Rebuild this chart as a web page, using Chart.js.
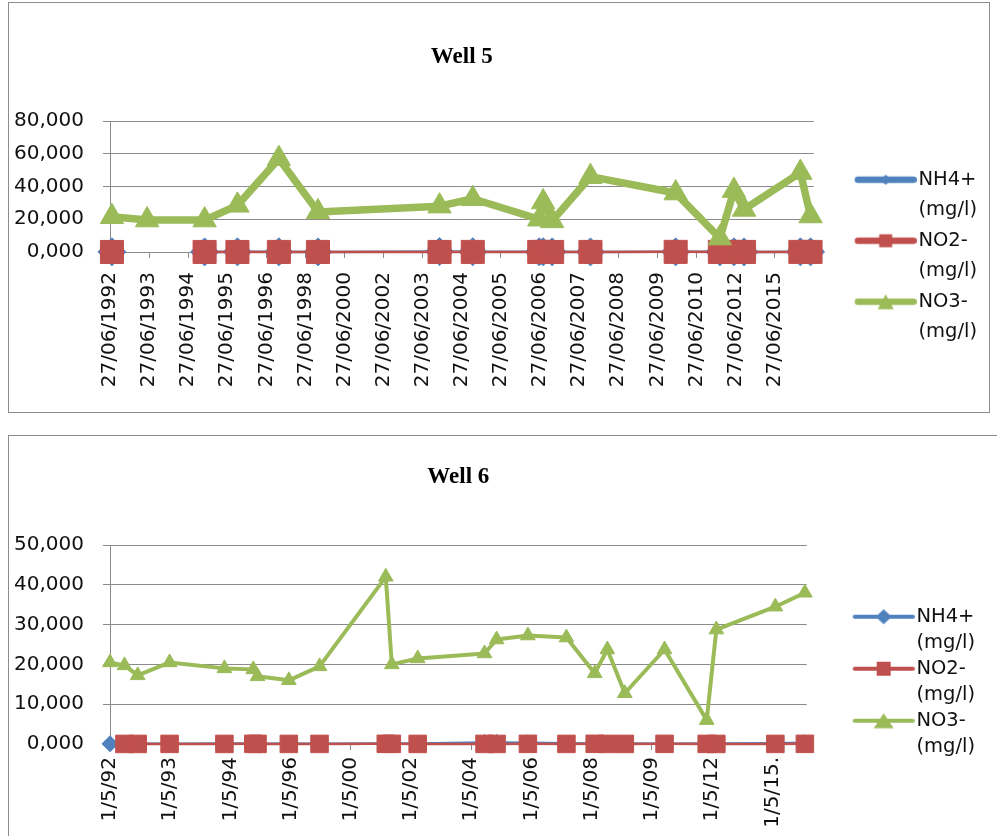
<!DOCTYPE html>
<html>
<head>
<meta charset="utf-8">
<script src="https://cdn.jsdelivr.net/npm/chart.js@4.4.1/dist/chart.umd.min.js"></script>
<style>
  html, body { margin: 0; padding: 0; background: #fff; }
  body { width: 997px; height: 836px; overflow: hidden; position: relative; }
  .box { position: absolute; left: 8px; border: 1px solid #8c8c8c; background: #fff; overflow: hidden; }
  #box5 { top: 2px; width: 980px; height: 409px; }
  #box6 { top: 435px; width: 1000px; height: 430px; }
  canvas { display: block; }
</style>
</head>
<body>
<div class="box" id="box5"><canvas id="well5" width="980" height="409"></canvas></div>
<div class="box" id="box6"><canvas id="well6" width="988" height="420"></canvas></div>
<script>
const seriesNames = [['NH4+', '(mg/l)'], ['NO2-', '(mg/l)'], ['NO3-', '(mg/l)']];
const colors = ['#4F81BD', '#C0504D', '#9BBB59'];
const gridColor = '#8a8a8a';

// Well 5 - sample positions are read along the category axis (1 = one label step)
const well5Labels = ['27/06/1992', '27/06/1993', '27/06/1994', '27/06/1995', '27/06/1996', '27/06/1998',
    '27/06/2000', '27/06/2002', '27/06/2003', '27/06/2004', '27/06/2005', '27/06/2006',
    '27/06/2007', '27/06/2008', '27/06/2009', '27/06/2010', '27/06/2012', '27/06/2015'];
const well5Pos = [0.05, 0.95, 2.42, 3.26, 4.32, 5.32, 8.43, 9.28, 10.98, 11.08, 11.31, 12.29, 14.47, 15.6, 15.96, 16.22, 17.66, 17.92];
const well5NH4 = [0.1, null, 0.05, 0.08, 0.12, 0.06, 0.3, 0.2, 0.1, 0.15, 0.1, 0.05, 0.08, 0.1, 0.12, 0.06, 0.1, 0.08];
const well5NO2 = [0.02, null, 0.03, 0.02, 0.05, 0.04, 0.03, 0.06, 0.04, 0.05, 0.03, 0.04, 0.08, 0.05, 0.06, 0.04, 0.07, 0.05];
const well5NO3 = [21.5, 19.5, 19.5, 28.5, 57, 24.5, 28, 32.5, 20, 30.5, 19, 46, 36, 8.5, 37.5, 26, 48.5, 22];

// Well 6
const well6Labels = ['1/5/92', '1/5/93', '1/5/94', '1/5/96', '1/5/00', '1/5/02', '1/5/04', '1/5/06',
    '1/5/08', '1/5/09', '1/5/12', '1/5/15.'];
const well6Pos = [0, 0.24, 0.46, 0.99, 1.9, 2.38, 2.45, 2.97, 3.48, 4.58, 4.68, 5.11,
    6.22, 6.42, 6.94, 7.58, 8.05, 8.26, 8.55, 9.21, 9.91, 10.07, 11.05, 11.54];
const well6NH4 = [0.05, 0.1, 0.1, 0.05, 0.1, 0.1, 0.05, 0.1, 0.05, 0.1, 0.1, 0.1,
    0.4, 0.4, 0.3, 0.2, 0.1, 0.1, 0.1, 0.05, 0.1, 0.1, 0.2, 0.3];
const well6NO2 = [null, 0.02, 0.02, 0.03, 0.02, 0.04, 0.03, 0.02, 0.03, 0.05, 0.04, 0.02,
    0.03, 0.02, 0.04, 0.03, 0.05, 0.03, 0.02, 0.04, 0.03, 0.02, 0.03, 0.04];
const well6NO3 = [20.5, 19.75, 17.25, 20.5, 19, 18.75, 17, 16, 19.5, 42, 20, 21.5,
    22.75, 26.25, 27.25, 26.75, 17.75, 23.75, 12.75, 23.75, 6, 28.75, 34.5, 38];

function points(pos, values) {
    return pos.map((x, i) => ({ x: x, y: values[i] }));
}

function fmt3(v) {
    return v.toFixed(3).replace('.', ',');
}

// line + marker sample used as legend point style
function makeSymbol(w, color, lineWidth, shape, size) {
    const c = document.createElement('canvas');
    c.width = w;
    c.height = 30;
    const g = c.getContext('2d');
    const y = 15, cx = w - 31;
    g.strokeStyle = color;
    g.fillStyle = color;
    g.lineWidth = lineWidth;
    g.lineCap = 'round';
    g.beginPath();
    g.moveTo(w - 62 + lineWidth / 2, y);
    g.lineTo(w - lineWidth / 2, y);
    g.stroke();
    g.beginPath();
    if (shape === 'diamond') {
        g.moveTo(cx, y - size[1] / 2);
        g.lineTo(cx + size[0] / 2, y);
        g.lineTo(cx, y + size[1] / 2);
        g.lineTo(cx - size[0] / 2, y);
    } else if (shape === 'square') {
        g.rect(cx - size[0] / 2, y - size[1] / 2, size[0], size[1]);
    } else {
        g.moveTo(cx, y - size[1] / 2);
        g.lineTo(cx + size[0] / 2, y + size[1] / 2);
        g.lineTo(cx - size[0] / 2, y + size[1] / 2);
    }
    g.closePath();
    g.fill();
    return c;
}

function drawWell(id, s) {
    const w = s.boxW + 16;
    // indexed like the datasets: NO3, NO2, NH4
    const symbols = [
        makeSymbol(w, colors[2], s.legendLine, 'triangle', s.legendMarks[2]),
        makeSymbol(w, colors[1], s.legendLine, 'square', s.legendMarks[1]),
        makeSymbol(w, colors[0], s.legendLine, 'diamond', s.legendMarks[0])
    ];
    const tickFont = { family: 'DejaVu Sans', size: 20 };

    function series(name, color, values, width, style, radius, spanGaps) {
        return {
            label: name,
            data: points(s.pos, values),
            borderColor: color,
            backgroundColor: color,
            borderWidth: width,
            borderJoinStyle: 'round',
            tension: 0,
            spanGaps: spanGaps,
            pointStyle: style,
            pointRadius: radius,
            pointHoverRadius: radius,
            pointBorderWidth: 1,
            pointBorderColor: color,
            pointBackgroundColor: color,
            clip: false
        };
    }

    return new Chart(document.getElementById(id), {
        type: 'line',
        data: {
            datasets: [
                series(seriesNames[2], colors[2], s.no3, s.no3Line, 'triangle', s.triR, true),
                series(seriesNames[1], colors[1], s.no2, 2.5, 'rect', s.rectR, false),
                series(seriesNames[0], colors[0], s.nh4, 2.5, 'rectRot', s.diaR, false)
            ]
        },
        options: {
            responsive: false,
            animation: false,
            events: [],
            layout: { padding: { top: 0, left: 0, bottom: 0, right: s.padRight } },
            plugins: {
                title: {
                    display: true,
                    text: s.title,
                    fullSize: false,
                    color: '#000',
                    font: { family: 'Liberation Serif', size: 23, weight: 'bold', lineHeight: 1.2 },
                    padding: { top: s.titleTop, bottom: s.titleBottom }
                },
                legend: {
                    position: 'right',
                    align: 'start',
                    reverse: true,
                    title: { display: true, text: ' ', font: { size: 10, lineHeight: 1 }, padding: { top: s.legendTop, bottom: 0 } },
                    labels: {
                        usePointStyle: true,
                        pointStyleWidth: s.boxW,
                        padding: 0,
                        color: '#111',
                        font: { family: 'DejaVu Sans', size: 19.5, lineHeight: s.legendLH },
                        generateLabels: function (chart) {
                            const items = Chart.defaults.plugins.legend.labels.generateLabels(chart);
                            items.forEach(item => { item.pointStyle = symbols[item.datasetIndex]; });
                            return items;
                        }
                    }
                },
                tooltip: { enabled: false }
            },
            scales: {
                x: {
                    type: 'linear',
                    min: 0,
                    max: s.xMax,
                    afterBuildTicks: axis => { axis.ticks = s.labels.map((_, i) => ({ value: i })); },
                    afterFit: scale => { scale.height = s.xHeight; },
                    grid: { drawOnChartArea: false, drawTicks: true, tickLength: 6, color: gridColor },
                    border: { color: gridColor },
                    ticks: {
                        autoSkip: false,
                        minRotation: 90,
                        maxRotation: 90,
                        padding: s.xPad,
                        color: '#111',
                        font: tickFont,
                        callback: (v, i) => s.labels[i]
                    }
                },
                y: {
                    min: 0,
                    max: s.yMax,
                    afterFit: scale => { scale.width = 101; },
                    grid: { color: gridColor, tickLength: 7 },
                    border: { color: gridColor },
                    ticks: { stepSize: s.yStep, padding: 19, color: '#111', font: tickFont, callback: v => fmt3(v) }
                }
            }
        }
    });
}

drawWell('well5', {
    title: 'Well 5', labels: well5Labels, pos: well5Pos,
    nh4: well5NH4, no2: well5NO2, no3: well5NO3,
    xMax: 18, yMax: 80, yStep: 20,
    no3Line: 7.5, triR: 13.5, rectR: 16.3, diaR: 14,
    titleTop: 40.2, titleBottom: 50.2, xHeight: 160, xPad: 14, padRight: 2,
    boxW: 95, legendTop: 157, legendLH: '30.5px', legendLine: 6.5,
    legendMarks: [[12, 10], [13, 13], [16, 15]]
});

drawWell('well6', {
    title: 'Well 6', labels: well6Labels, pos: well6Pos,
    nh4: well6NH4, no2: well6NO2, no3: well6NO3,
    xMax: 11.57, yMax: 50, yStep: 10,
    no3Line: 4, triR: 8.5, rectR: 12.4, diaR: 8,
    titleTop: 27.2, titleBottom: 54.2, xHeight: 112, xPad: 7, padRight: 12,
    boxW: 100, legendTop: 161, legendLH: '26px', legendLine: 4,
    legendMarks: [[16, 15], [14, 14], [20, 15]]
});
</script>
</body>
</html>
